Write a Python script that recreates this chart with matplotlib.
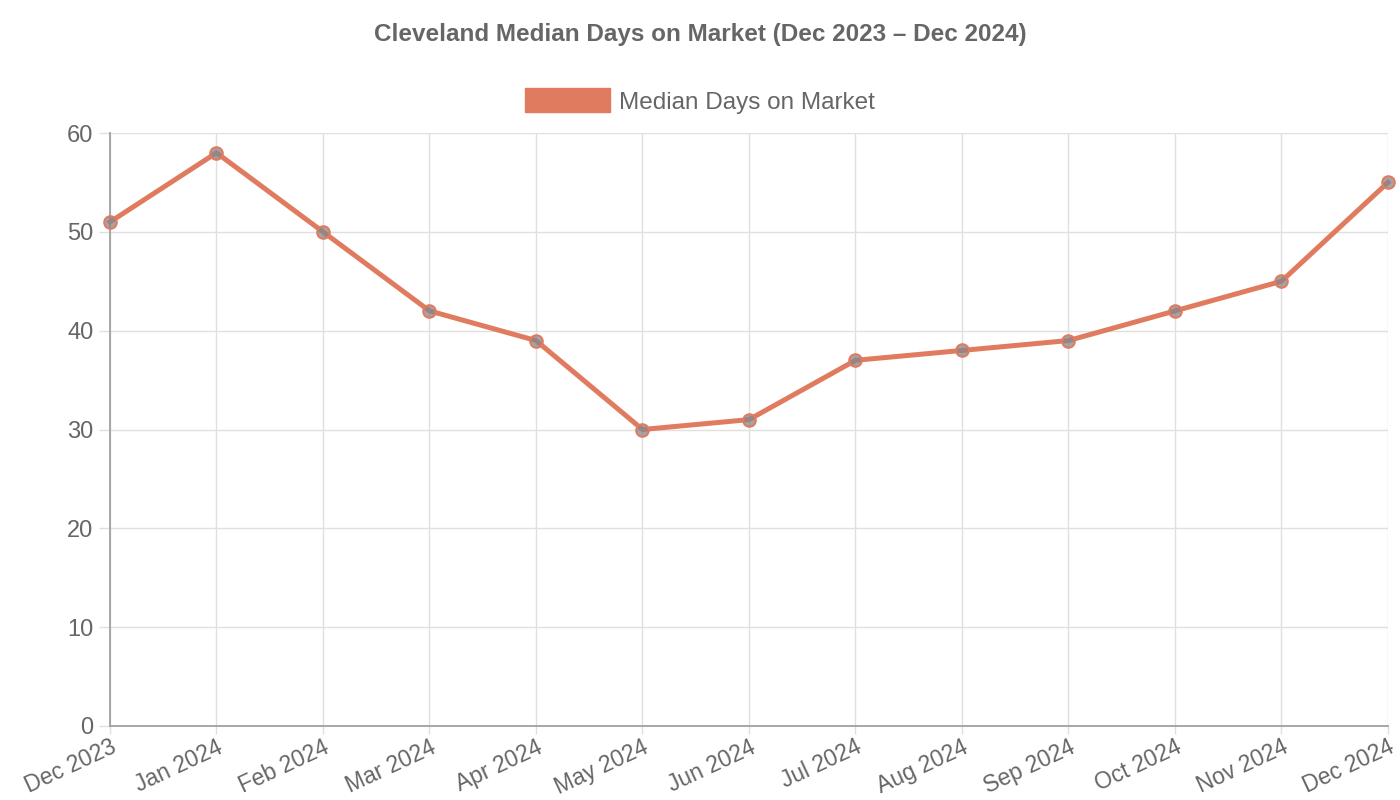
import matplotlib.pyplot as plt
from matplotlib.patches import Patch

plt.rcParams['font.family'] = ['Liberation Sans', 'DejaVu Sans']

# Data
months = ['Dec 2023', 'Jan 2024', 'Feb 2024', 'Mar 2024', 'Apr 2024', 'May 2024',
          'Jun 2024', 'Jul 2024', 'Aug 2024', 'Sep 2024', 'Oct 2024', 'Nov 2024',
          'Dec 2024']
median_days = [51, 58, 50, 42, 39, 30, 31, 37, 38, 39, 42, 45, 55]

LINE = '#e07b5f'
TEXT = '#666666'
GRID = '#e0e0e0'

fig = plt.figure(figsize=(14, 8), dpi=100)
ax = fig.add_axes([110 / 1400, 1 - 726 / 800, 1278 / 1400, 593 / 800])

x = range(len(months))
ax.plot(x, median_days, color=LINE, linewidth=3.6, zorder=3, clip_on=False,
        marker='o', markersize=9, markerfacecolor=(0.53, 0.53, 0.55, 0.75),
        markeredgecolor=LINE, markeredgewidth=1.5)

ax.set_xlim(0, len(months) - 1)
ax.set_ylim(0, 60)
ax.set_yticks(range(0, 61, 10))
ax.set_xticks(list(x))
ax.set_xticklabels(months, rotation=25, ha='right', rotation_mode='anchor')

ax.grid(True, color=GRID, linewidth=1)
ax.set_axisbelow(True)
for side in ['top', 'right']:
    ax.spines[side].set_visible(False)
for side in ['left', 'bottom']:
    ax.spines[side].set_color('#a0a0a0')
    ax.spines[side].set_linewidth(1.3)
ax.tick_params(axis='y', colors=GRID, labelcolor=TEXT, labelsize=17,
               length=8, width=1, pad=4)
ax.tick_params(axis='x', colors=GRID, labelcolor=TEXT, labelsize=16.5,
               length=6, width=1, pad=1)

fig.text(0.5, 1 - 35 / 800, 'Cleveland Median Days on Market (Dec 2023 – Dec 2024)',
         ha='center', va='center', fontsize=17.5, fontweight='bold', color=TEXT)

fig.legend(handles=[Patch(facecolor=LINE, edgecolor=LINE, label='Median Days on Market')],
           loc='center', bbox_to_anchor=(0.5, 1 - 101 / 800), frameon=False,
           fontsize=17.5, labelcolor=TEXT, handlelength=3.5, handleheight=1.15,
           handletextpad=0.4)

plt.savefig('out.png', dpi=100)
plt.close()
